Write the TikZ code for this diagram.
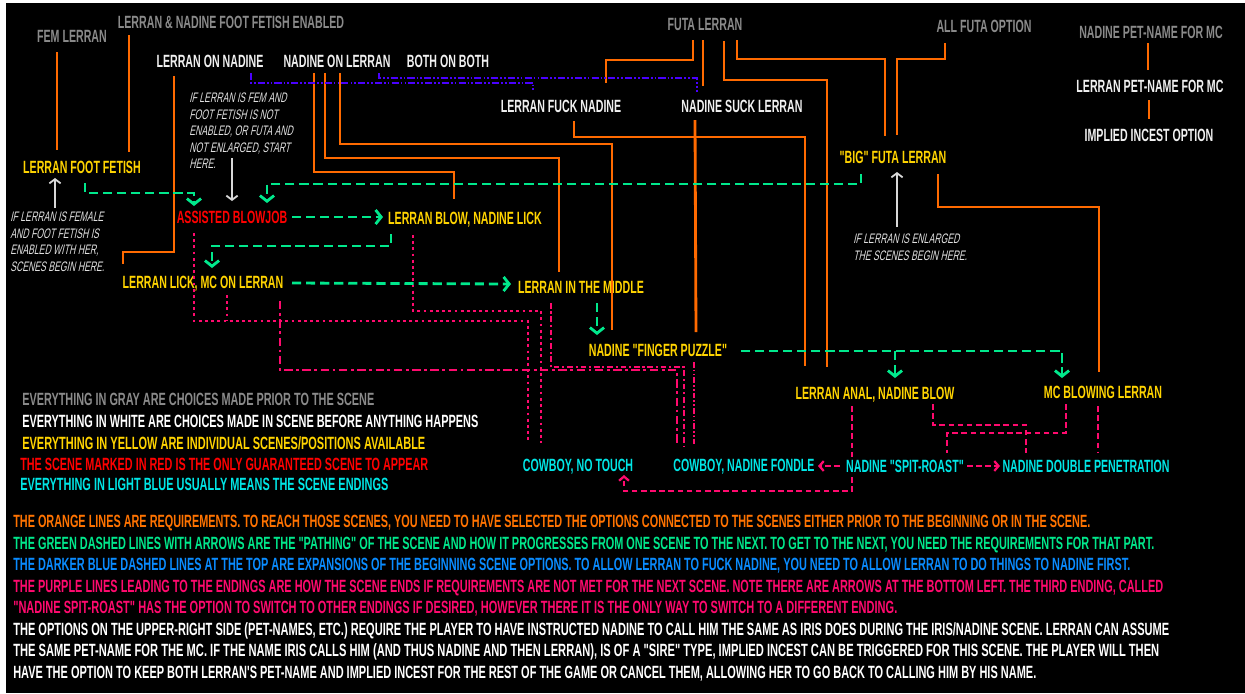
\documentclass[tikz,border=0pt]{standalone}
\usepackage{fontspec}
\usepackage{graphicx}
\usetikzlibrary{arrows.meta,calc}

\newfontfamily\cond{Liberation Sans}[FakeStretch=0.6]
\newfontfamily\slnt{Liberation Sans}[FakeStretch=0.63,FakeSlant=0.22]
\newlength\pxu
\setlength\pxu{0.025cm}
\newcommand\fitw[2]{\resizebox{#1\pxu}{\height}{#2}}

\definecolor{optgray}{HTML}{8A8A8A}
\definecolor{scnyellow}{HTML}{FFD400}
\definecolor{endcyan}{HTML}{00E6E6}
\definecolor{reqorange}{HTML}{FF6A00}
\definecolor{gogreen}{HTML}{00E88C}
\definecolor{expblue}{HTML}{4A00FF}
\definecolor{endpink}{HTML}{FF0A6E}
\definecolor{keyblue}{HTML}{0A8CFF}
\definecolor{keyorange}{HTML}{FF7300}
\definecolor{hintgray}{HTML}{D8D8D8}

\tikzset{
  opt/.style={font=\cond\bfseries\fontsize{12.6}{14}\selectfont,inner sep=0pt,text depth=0pt},
  pre/.style={opt,text=optgray},
  live/.style={opt,text=white!94!black},
  scene/.style={opt,text=scnyellow},
  start/.style={opt,text=red},
  ending/.style={opt,text=endcyan},
  note/.style={font=\slnt\fontsize{9.8}{11.7}\selectfont,text=white!88!black,
    align=left,inner sep=0pt,anchor=north west},
  key/.style={opt,anchor=west},
  req/.style={draw=reqorange,line width=2pt},
  go/.style={draw=gogreen,line width=2pt,dash pattern=on 6.5pt off 3.5pt,
    -{Straight Barb[length=4pt,width=10pt,line width=2pt]}},
  expand/.style={draw=expblue,line width=1.4pt,
    dash pattern=on 5pt off 1.5pt on 1.2pt off 1.5pt on 1.2pt off 1.5pt},
  enddot/.style={draw=endpink,line width=2.1pt,dash pattern=on 2pt off 2.4pt},
  endbold/.style={draw=endpink,line width=2pt,dash pattern=on 6pt off 2.5pt on 2pt off 2.5pt},
  endthin/.style={draw=endpink,line width=1.5pt,dash pattern=on 4pt off 2pt on 1.5pt off 2pt},
  endddot/.style={draw=endpink,line width=1.5pt,
    dash pattern=on 4pt off 1.5pt on 1.2pt off 1.5pt on 1.2pt off 1.5pt},
  enddash/.style={draw=endpink,line width=1.8pt,dash pattern=on 4pt off 2.5pt},
  endarr/.style={enddash,-{Straight Barb[length=3pt,width=7pt,line width=1.6pt]}},
  hint/.style={draw=hintgray,line width=1.3pt,-{Straight Barb[length=3pt,width=8pt,line width=1.3pt]}}
}

\begin{document}
\begin{tikzpicture}[x=0.025cm,y=-0.025cm]
  \useasboundingbox (0,0) rectangle (1245,693);
  \fill[white] (0,0) rectangle (1245,693);
  \fill[black] (6,3) rectangle (1245,693);

  % choices before the scene
  \node[pre] (fem) at (72,36) {FEM LERRAN};
  \node[pre] (fetEn) at (231,22) {LERRAN \& NADINE FOOT FETISH ENABLED};
  \node[pre] (futa) at (705,24) {FUTA LERRAN};
  \node[pre] (allF) at (984,26) {ALL FUTA OPTION};
  \node[pre] (npet) at (1151,32) {NADINE PET-NAME FOR MC};

  % choices in the scene
  \node[live] (lon) at (210,61) {LERRAN ON NADINE};
  \node[live] (nol) at (337,61) {NADINE ON LERRAN};
  \node[live] (bob) at (448,61) {BOTH ON BOTH};
  \node[live] (lfn) at (561,106) {LERRAN FUCK NADINE};
  \node[live] (nsl) at (742,106) {NADINE SUCK LERRAN};
  \node[live] (lpet) at (1150,86) {LERRAN PET-NAME FOR MC};
  \node[live] (inc) at (1149,135) {IMPLIED INCEST OPTION};

  % scenes
  \node[scene] (footF) at (82,167) {LERRAN FOOT FETISH};
  \node[start] (asst) at (232,217) {ASSISTED BLOWJOB};
  \node[scene] (blow) at (465,218) {LERRAN BLOW, NADINE LICK};
  \node[scene] (lick) at (203,282) {LERRAN LICK, MC ON LERRAN};
  \node[scene] (mid) at (581,287) {LERRAN IN THE MIDDLE};
  \node[scene] (fing) at (658,350) {NADINE "FINGER PUZZLE"};
  \node[scene] (big) at (893,157) {"BIG" FUTA LERRAN};
  \node[scene] (anal) at (875,393) {LERRAN ANAL, NADINE BLOW};
  \node[scene] (mcb) at (1103,392) {MC BLOWING LERRAN};

  % endings
  \node[ending] (cnt) at (578,465) {COWBOY, NO TOUCH};
  \node[ending] (cnf) at (744,465) {COWBOY, NADINE FONDLE};
  \node[ending] (spit) at (905,466) {NADINE "SPIT-ROAST"};
  \node[ending] (dp) at (1086,466) {NADINE DOUBLE PENETRATION};

  % notes
  \node[note] (noteL) at (10,212) {IF LERRAN IS FEMALE\\AND FOOT FETISH IS\\ENABLED WITH HER,\\SCENES BEGIN HERE.};
  \node[note] (noteM) at (189,93) {IF LERRAN IS FEM AND\\FOOT FETISH IS NOT\\ENABLED, OR FUTA AND\\NOT ENLARGED, START\\HERE.};
  \node[note] (noteR) at (853,234) {IF LERRAN IS ENLARGED\\THE SCENES BEGIN HERE.};
  \draw[hint] ($(noteL.north west)+(45,-4)$) -- ($(footF)+(-27,11)$);
  \draw[hint] ($(noteM.north west)+(43,65)$) -- ($(asst)+(0,-16)$);
  \draw[hint] ($(noteR.north west)+(44,-7)$) -- ($(big)+(4,15)$);

  % requirements
  \draw[req] ($(fem)+(-15,16)$) -- ($(footF)+(-25,-17)$);
  \draw[req] ($(fetEn)+(-102,13)$) -- ($(footF)+(47,-15)$);
  \draw[req] ($(lon)+(-36,15)$) |- ($(lick)+(-80,-30)$) -- ($(lick)+(-80,-18)$);
  \draw[req] ($(nol)+(-23,12)$) |- ($(blow)+(-11,-46)$) -- ($(blow)+(-11,-19)$);
  \draw[req] ($(nol)+(-12,12)$) |- ($(mid)+(-22,-129)$) -- ($(mid)+(-22,-15)$);
  \draw[req] ($(nol)+(3,12)$) |- ($(fing)+(-46,-206)$) -- ($(fing)+(-46,-20)$);
  \draw[req] ($(futa)+(-12,16)$) |- ($(lfn)+(45,-46)$) -- ($(lfn)+(45,-23)$);
  \draw[req] ($(futa)+(-2,16)$) -- ($(nsl)+(-39,-20)$);
  \draw[req] ($(futa)+(19,17)$) |- ($(anal)+(-48,-313)$) -- ($(anal)+(-48,-26)$);
  \draw[req] ($(futa)+(32,16)$) |- ($(big)+(-8,-98)$) -- ($(big)+(-8,-21)$);
  \draw[req] ($(allF)+(-39,17)$) |- ($(big)+(4,-98)$) -- ($(big)+(4,-22)$);
  \draw[req] ($(big)+(45,17)$) |- ($(mcb)+(-4,-185)$) -- ($(mcb)+(-4,-20)$);
  \draw[req] ($(lfn)+(13,15)$) |- ($(anal)+(-70,-256)$) -- ($(anal)+(-70,-27)$);
  \draw[req] ($(nsl)+(-47,14)$) -- ($(fing)+(38,-18)$);
  \draw[req] ($(npet)+(-3,11)$) -- ($(lpet)+(-2,-16)$);
  \draw[req] ($(lpet)+(-1,14)$) -- ($(inc)+(0,-16)$);

  % expansions
  \draw[expand] ($(lon)+(41,12)$) |- ($(lfn)+(-28,-23)$) -- ($(lfn)+(-28,-15)$);
  \draw[expand] ($(nol)+(42,12)$) |- ($(nsl)+(-45,-28)$) -- ($(nsl)+(-45,-14)$);

  % pathing
  \draw[go] ($(footF)+(3,16)$) |- ($(asst)+(-38,-24)$) -- ($(asst)+(-38,-11)$);
  \draw[go] ($(big)+(-32,17)$) |- ($(asst)+(35,-33)$) -- ($(asst)+(35,-14)$);
  \draw[go] ($(asst)+(60,0)$) -- ($(blow)+(-82,-1)$);
  \draw[go] ($(blow)+(-74,16)$) |- ($(lick)+(9,-36)$) -- ($(lick)+(9,-14)$);
  \draw[go] ($(lick)+(89,1)$) -- ($(mid)+(-70,-3)$);
  \draw[go] ($(mid)+(16,16)$) -- ($(fing)+(-61,-15)$);
  \draw[go] ($(fing)+(83,1)$) -| ($(mcb)+(-41,-14)$);
  \draw[go] ($(anal)+(20,-42)$) -- ($(anal)+(20,-15)$);

  % endings
  \draw[enddot] ($(asst)+(-38,16)$) |- ($(cnt)+(-50,-144)$) -- ($(cnt)+(-50,-23)$);
  \draw[enddot] ($(lick)+(24,13)$) -- ($(lick)+(24,39)$);
  \draw[enddot] ($(blow)+(-52,17)$) |- ($(cnt)+(-37,-154)$) -- ($(cnt)+(-37,-22)$);
  \draw[endbold] ($(lick)+(77,19)$) |- ($(cnf)+(-67,-95)$) -- ($(cnf)+(-67,-19)$);
  \draw[endthin] ($(mid)+(-30,16)$) |- ($(cnf)+(-60,-98)$) -- ($(cnf)+(-60,-18)$);
  \draw[endddot] ($(fing)+(36,12)$) -- ($(cnf)+(-50,-20)$);
  \draw[enddash] ($(anal)+(-23,13)$) -- ($(spit)+(-53,-9)$);
  \draw[endarr] ($(spit)+(-53,11)$) |- ($(cnt)+(46,26)$) -- ($(cnt)+(46,10)$);
  \draw[endarr] ($(spit)+(-65,0)$) -- ($(cnf)+(74,1)$);
  \draw[endarr] ($(spit)+(62,0)$) -- ($(dp)+(-86,0)$);
  \draw[enddash] ($(anal)+(58,11)$) |- ($(dp)+(-60,-41)$) -- ($(dp)+(-60,-13)$);
  \draw[enddash] ($(mcb)+(-37,12)$) |- ($(spit)+(42,-33)$) -- ($(spit)+(42,-13)$);
  \draw[enddash] ($(mcb)+(-5,14)$) -- ($(dp)+(12,-13)$);

  % colour key
  \node[key,text=optgray] (kGray) at (22,399) {\fitw{352}{EVERYTHING IN GRAY ARE CHOICES MADE PRIOR TO THE SCENE}};
  \node[key,text=white] (kWhite) at (22,421) {\fitw{456}{EVERYTHING IN WHITE ARE CHOICES MADE IN SCENE BEFORE ANYTHING HAPPENS}};
  \node[key,text=scnyellow] (kYellow) at (22,443) {\fitw{403}{EVERYTHING IN YELLOW ARE INDIVIDUAL SCENES/POSITIONS AVAILABLE}};
  \node[key,text=red] (kRed) at (20,464) {\fitw{408}{THE SCENE MARKED IN RED IS THE ONLY GUARANTEED SCENE TO APPEAR}};
  \node[key,text=endcyan] (kCyan) at (20,484) {\fitw{368}{EVERYTHING IN LIGHT BLUE USUALLY MEANS THE SCENE ENDINGS}};

  % explanations
  \node[key,text=keyorange] (eOrange) at (13,521) {\fitw{1077}{THE ORANGE LINES ARE REQUIREMENTS. TO REACH THOSE SCENES, YOU NEED TO HAVE SELECTED THE OPTIONS CONNECTED TO THE SCENES EITHER PRIOR TO THE BEGINNING OR IN THE SCENE.}};
  \node[key,text=gogreen] (eGreen) at (13,543) {\fitw{1141}{THE GREEN DASHED LINES WITH ARROWS ARE THE "PATHING" OF THE SCENE AND HOW IT PROGRESSES FROM ONE SCENE TO THE NEXT. TO GET TO THE NEXT, YOU NEED THE REQUIREMENTS FOR THAT PART.}};
  \node[key,text=keyblue] (eBlue) at (13,564) {\fitw{1117}{THE DARKER BLUE DASHED LINES AT THE TOP ARE EXPANSIONS OF THE BEGINNING SCENE OPTIONS. TO ALLOW LERRAN TO FUCK NADINE, YOU NEED TO ALLOW LERRAN TO DO THINGS TO NADINE FIRST.}};
  \node[key,text=endpink] (ePinkA) at (13,586) {\fitw{1150}{THE PURPLE LINES LEADING TO THE ENDINGS ARE HOW THE SCENE ENDS IF REQUIREMENTS ARE NOT MET FOR THE NEXT SCENE. NOTE THERE ARE ARROWS AT THE BOTTOM LEFT. THE THIRD ENDING, CALLED}};
  \node[key,text=endpink] (ePinkB) at (13,607) {\fitw{884}{"NADINE SPIT-ROAST" HAS THE OPTION TO SWITCH TO OTHER ENDINGS IF DESIRED, HOWEVER THERE IT IS THE ONLY WAY TO SWITCH TO A DIFFERENT ENDING.}};
  \node[key,text=white] (eWhiteA) at (13,629) {\fitw{1156}{THE OPTIONS ON THE UPPER-RIGHT SIDE (PET-NAMES, ETC.) REQUIRE THE PLAYER TO HAVE INSTRUCTED NADINE TO CALL HIM THE SAME AS IRIS DOES DURING THE IRIS/NADINE SCENE. LERRAN CAN ASSUME}};
  \node[key,text=white] (eWhiteB) at (13,650) {\fitw{1146}{THE SAME PET-NAME FOR THE MC. IF THE NAME IRIS CALLS HIM (AND THUS NADINE AND THEN LERRAN), IS OF A "SIRE" TYPE, IMPLIED INCEST CAN BE TRIGGERED FOR THIS SCENE. THE PLAYER WILL THEN}};
  \node[key,text=white] (eWhiteC) at (13,672) {\fitw{1023}{HAVE THE OPTION TO KEEP BOTH LERRAN'S PET-NAME AND IMPLIED INCEST FOR THE REST OF THE GAME OR CANCEL THEM, ALLOWING HER TO GO BACK TO CALLING HIM BY HIS NAME.}};
\end{tikzpicture}
\end{document}
